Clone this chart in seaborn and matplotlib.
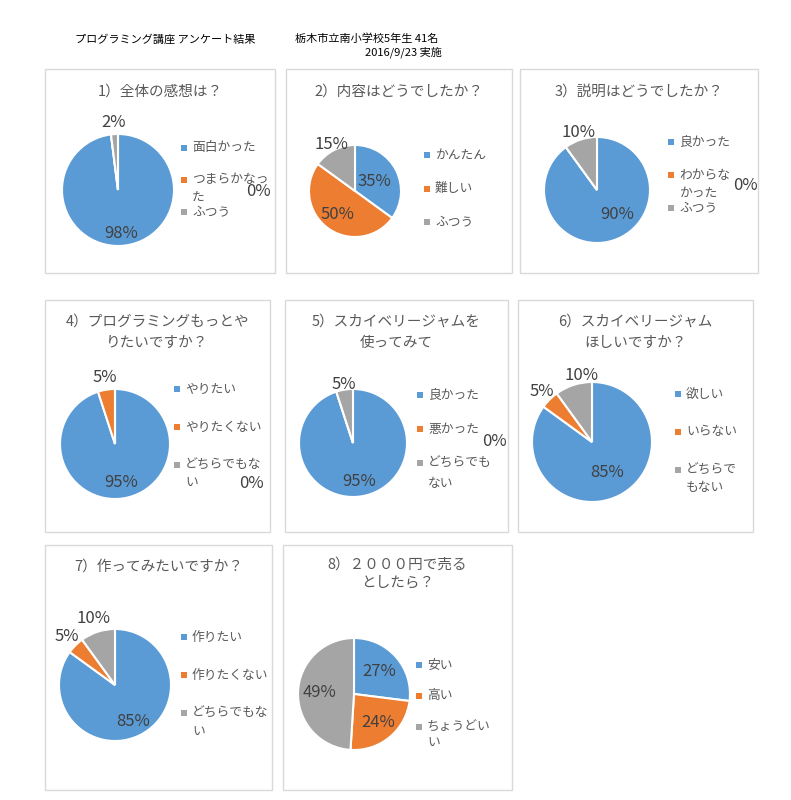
import numpy as np
import matplotlib
matplotlib.use("Agg")
import matplotlib.pyplot as plt
import seaborn as sns
from matplotlib.patches import Rectangle

sns.set_style("white")
plt.rcParams['font.family'] = ['Noto Sans CJK JP', 'DejaVu Sans']

# データ
header_left = "プログラミング講座 アンケート結果"
header_right = "栃木市立南小学校5年生 41名"
header_date = "2016/9/23 実施"

titles = [
    "1）全体の感想は？",
    "2）内容はどうでしたか？",
    "3）説明はどうでしたか？",
    "4）プログラミングもっとや\nりたいですか？",
    "5）スカイベリージャムを\n使ってみて",
    "6）スカイベリージャム\nほしいですか？",
    "7）作ってみたいですか？",
    "8）２０００円で売る\nとしたら？",
]
labels1 = ["面白かった", "つまらかなっ\nた", "ふつう"]
labels2 = ["かんたん", "難しい", "ふつう"]
labels3 = ["良かった", "わからな\nかった", "ふつう"]
labels4 = ["やりたい", "やりたくない", "どちらでもな\nい"]
labels5 = ["良かった", "悪かった", "どちらでも\nない"]
labels6 = ["欲しい", "いらない", "どちらで\nもない"]
labels7 = ["作りたい", "作りたくない", "どちらでもな\nい"]
labels8 = ["安い", "高い", "ちょうどい\nい"]

values1 = [98, 0, 2]
values2 = [35, 50, 15]
values3 = [90, 0, 10]
values4 = [95, 5, 0]
values5 = [95, 0, 5]
values6 = [85, 5, 10]
values7 = [85, 5, 10]
values8 = [27, 24, 49]

all_labels = [labels1, labels2, labels3, labels4, labels5, labels6, labels7, labels8]
all_values = [values1, values2, values3, values4, values5, values6, values7, values8]

colors = ['#5B9BD5', '#ED7D31', '#A5A5A5']

# レイアウト (ピクセル)
W, H = 791, 800
boxes = [(45, 69, 275, 273), (286, 69, 512, 273), (520, 69, 758, 273),
         (45, 300, 270, 532), (285, 300, 508, 532), (518, 300, 753, 532),
         (45, 545, 272, 790), (283, 545, 512, 790)]
title_y = [[92], [92], [92], [322, 343], [322, 343], [322, 343], [567], [565, 583]]
pies = [(118, 190, 56), (355, 191, 46), (597, 190, 53),
        (115, 444, 55), (353, 443, 54), (592, 442, 60),
        (115, 685, 56), (354, 694, 56)]
label_dist = [[0.77, 0, 1.21], [0.47, 0.64, 1.14], [0.6, 0, 1.15],
              [0.71, 1.22, 0], [0.73, 0, 1.1], [0.57, 1.19, 1.13],
              [0.73, 1.22, 1.24], [0.6, 0.67, 0.61]]
label_turn = [[0, 0, 0], [0, 0, 0], [22, 0, 0],
              [0, 0, 0], [0, 0, 0], [0, 0, -9],
              [0, 0, 0], [0, 0, 0]]
# 凡例: マーカーx, 先頭y, 間隔, 行の高さ, 0%のずれ
legends = [(184, 148, 32, 18, 12), (427, 155, 33.5, 18, 12), (671, 142, 33, 18, 11),
           (177, 389, 38, 18, 18), (420, 395, 34, 20, 13), (678, 394, 38, 17, 12),
           (184, 637, 38, 19, 12), (419, 665, 31, 16, 12)]

title_color = '#595959'
text_color = '#404040'


def fx(x):
    return x / W


def fy(y):
    return 1 - y / H


fig = plt.figure(figsize=(7.91, 8.0), dpi=100)

# ヘッダー
fig.text(fx(75), fy(39), header_left, fontsize=8, va='center', ha='left', color='black')
fig.text(fx(295), fy(39), header_right, fontsize=8, va='center', ha='left', color='black')
fig.text(fx(442), fy(52), header_date, fontsize=8, va='center', ha='right', color='black')

for i in range(8):
    x0, y0, x1, y1 = boxes[i]
    fig.add_artist(Rectangle((fx(x0), fy(y1)), fx(x1 - x0), (y1 - y0) / H,
                             transform=fig.transFigure, fill=False,
                             edgecolor='#D9D9D9', linewidth=1))
    # タイトル
    for line, ty in zip(titles[i].split("\n"), title_y[i]):
        fig.text(fx((x0 + x1) / 2), fy(ty), line, fontsize=10.5, ha='center',
                 va='center', color=title_color)

    # 円グラフ
    cx, cy, r = pies[i]
    ax = fig.add_axes([fx(cx - r), fy(cy + r), 2 * r / W, 2 * r / H])
    vals = all_values[i]
    wedges, _ = ax.pie(vals, colors=colors, startangle=90, counterclock=False,
                       radius=1, wedgeprops=dict(edgecolor='white', linewidth=1.5))
    ax.set_xlim(-1, 1)
    ax.set_ylim(-1, 1)
    ax.axis('off')

    # 凡例
    lx, ly, step, lh, zdy = legends[i]
    for j, lab in enumerate(all_labels[i]):
        ey = ly + j * step
        fig.add_artist(Rectangle((fx(lx - 3), fy(ey + 3)), 6 / W, 6 / H,
                                 transform=fig.transFigure, facecolor=colors[j],
                                 edgecolor='none'))
        for k, line in enumerate(lab.split("\n")):
            fig.text(fx(lx + 8), fy(ey + k * lh), line, fontsize=9.2, ha='left',
                     va='center', color=title_color)

    # パーセント表示
    for j, w in enumerate(wedges):
        pct = f"{vals[j]}%"
        if vals[j] == 0:
            ey = ly + j * step
            fig.text(fx(lx + 62), fy(ey + zdy), pct, fontsize=12, ha='left',
                     va='center', color=text_color)
            continue
        mid = np.deg2rad((w.theta1 + w.theta2) / 2 + label_turn[i][j])
        d = label_dist[i][j]
        ax.text(d * np.cos(mid), d * np.sin(mid), pct, fontsize=12, ha='center',
                va='center', color=text_color, clip_on=False)

fig.savefig("out.png", dpi=100, facecolor='white')
